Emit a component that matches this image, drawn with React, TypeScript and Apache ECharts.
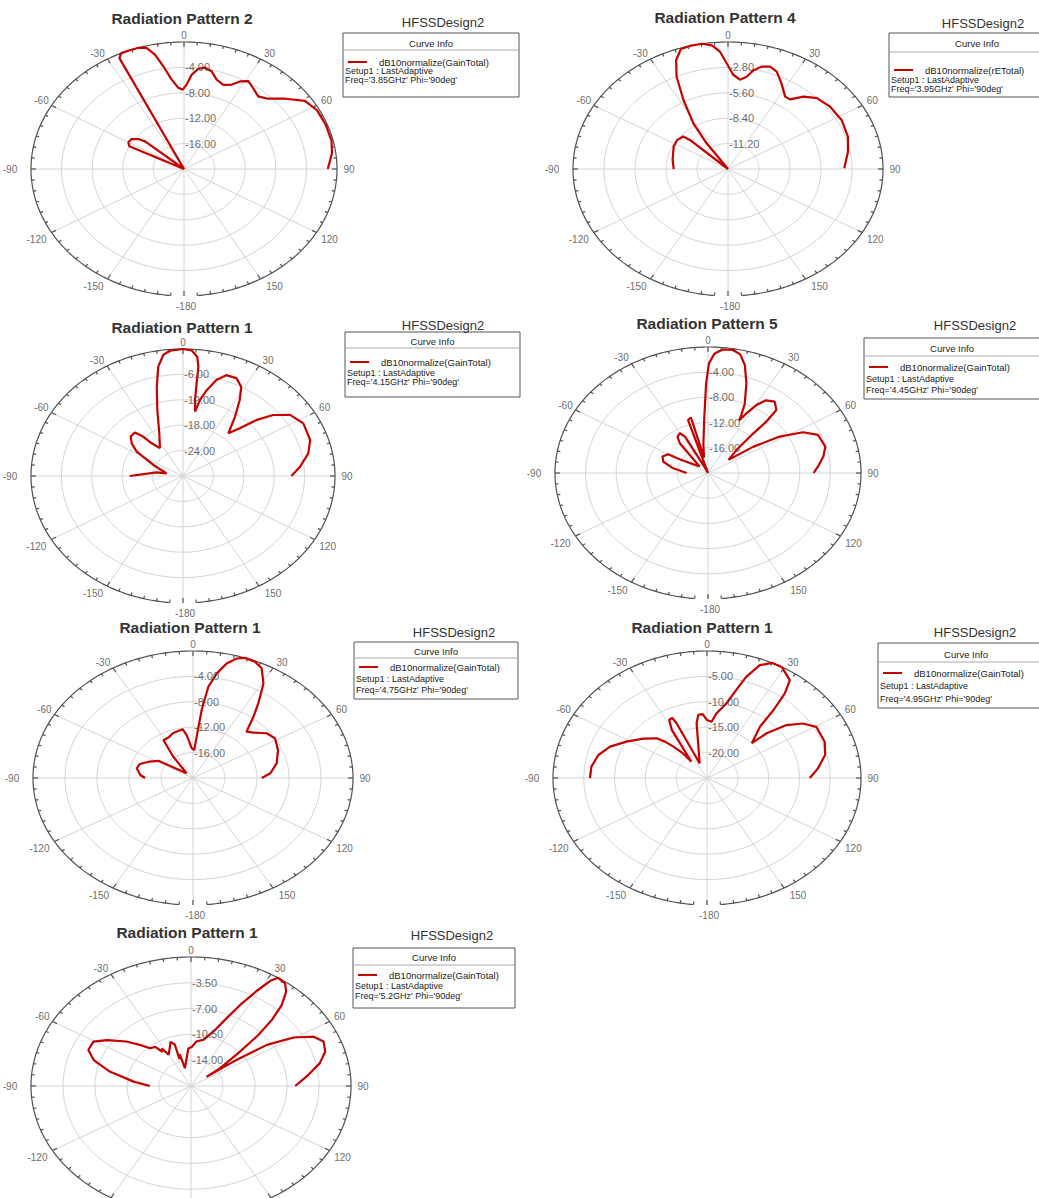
import React, { useEffect, useRef } from "react";
import * as echarts from "echarts";

// ---------- DATA ----------
const angleTickValues = [0, 30, 60, 90, 120, 150, 180, -150, -120, -90, -60, -30];
const angleTickLabels = ["0", "30", "60", "90", "120", "150", "-180", "-150", "-120", "-90", "-60", "-30"];

const plotTitles = [
  "Radiation Pattern 2",
  "Radiation Pattern 4",
  "Radiation Pattern 1",
  "Radiation Pattern 5",
  "Radiation Pattern 1",
  "Radiation Pattern 1",
  "Radiation Pattern 1",
];
const freqLabels = ["3.85GHz", "3.95GHz", "4.15GHz", "4.45GHz", "4.75GHz", "4.95GHz", "5.2GHz"];
const quantityLabels = [
  "dB10normalize(GainTotal)",
  "dB10normalize(rETotal)",
  "dB10normalize(GainTotal)",
  "dB10normalize(GainTotal)",
  "dB10normalize(GainTotal)",
  "dB10normalize(GainTotal)",
  "dB10normalize(GainTotal)",
];
const radialMins = [-20, -14, -30, -20, -20, -25, -17.5];
const radialSteps = [4, 2.8, 6, 4, 4, 5, 3.5];

// [theta (deg), gain (dB)]
const gain385GHz: [number, number][] = [
  [-90, -20], [-66, -20], [-63.5, -12.0], [-60, -11.6], [-55.4, -11.7], [-51.6, -12.4], [-49.5, -13.3],
  [-47, -20], [-30, -20], [-25.8, -0.6], [-24.2, 0], [-21.4, 0], [-17.6, 0], [-14.4, -0.3], [-11.9, -1.6],
  [-9.5, -3.6], [-6.6, -5.8], [-3.3, -7.2], [-0.8, -7.5], [1.5, -6.7], [3.9, -5.1], [6.8, -4.1], [9.7, -3.8],
  [13.2, -4.2], [16.9, -5.3], [21.2, -5.8], [25.2, -5.3], [27.9, -4.4], [31.3, -3.8], [35.4, -4.4],
  [40.3, -5.0], [44.3, -4.5], [49.5, -2.9], [55.8, -0.9], [61.9, -0.3], [69.4, -0.2], [76.9, -0.2],
  [82.7, -0.5], [90, -1.2],
];
const gain395GHz: [number, number][] = [
  [-90, -9.1], [-78.8, -8.9], [-63.2, -8.5], [-55.4, -8.4], [-48.5, -8.6], [-47.1, -9.3], [-46, -14],
  [-40, -14], [-34.3, -10.6], [-31.9, -8.1], [-27.9, -5.4], [-24.5, -2.8], [-21.3, -1.1], [-17.8, -0.1],
  [-13.8, 0], [-9.6, 0], [-6.1, -0.3], [-3.2, -1.05], [-0.6, -2.35], [2.6, -3.6], [6.3, -4.1], [9.4, -3.7],
  [11.9, -2.9], [15.1, -2.3], [18.6, -2.1], [22.3, -2.4], [27.1, -3.4], [32.9, -4.5], [36.1, -4.5],
  [40.5, -3.5], [45.8, -2.8], [53.3, -2.5], [62.2, -2.4], [71.8, -2.6], [80.1, -3.0], [89.6, -3.5],
];
const gain415GHz: [number, number][] = [
  [-90, -19.5], [-80.5, -24.7], [-79, -26.7], [-66, -23.6], [-57.8, -19.2], [-52.8, -17.3], [-48, -16.1],
  [-42.8, -16.0], [-40.1, -17.9], [-38.7, -20.1], [-34.7, -22.0], [-24.9, -18.9], [-18, -13.6],
  [-13.8, -8.3], [-10.7, -3.7], [-7.7, -1.1], [-5, -0.3], [0, 0], [3.3, -0.3], [5.7, -1.7], [6.7, -4.0],
  [7, -7.9], [7.5, -11.9], [8.9, -14.6], [10.6, -11.7], [13, -9.2], [16.2, -6.4], [19.7, -4.7],
  [24.5, -4.6], [28.6, -6.0], [32, -8.9], [36.2, -12.6], [41.6, -16.5], [44.8, -14.1], [47.7, -10.3],
  [51, -7.1], [55.7, -4.4], [62.4, -3.2], [71.3, -3.5], [77.8, -4.7], [84.6, -6.8], [90, -8.6],
];
const gain445GHz: [number, number][] = [
  [-90, -17.2], [-80.7, -15.4], [-73, -13.9], [-66.3, -13.5], [-60.3, -14.0], [-59.7, -15.7],
  [-47, -18.5], [-37.9, -14.0], [-34.8, -13.0], [-30.2, -12.7], [-27.5, -13.5], [-26, -18.5], [-21, -20],
  [-17.2, -11.2], [-14.3, -10.9], [-14, -13.0], [-12, -17.5], [-7.4, -15.3], [-3.1, -11.1], [-1, -5.8],
  [0.4, -2.6], [2.6, -1.0], [5.7, -0.3], [9.5, -0.2], [12.6, -0.7], [15.7, -2.2], [19.4, -4.9],
  [23.6, -8.0], [25.3, -9.8], [26, -10.7], [27.9, -9.3], [30.4, -7.5], [33.3, -6.2], [37.6, -5.7],
  [41.8, -6.6], [43.1, -8.9], [43.3, -11.4], [45.6, -14.8], [52.2, -16.6], [54.8, -12.8], [58.3, -9.0],
  [62.5, -6.0], [67.2, -4.4], [74.8, -4.1], [80.2, -4.7], [86, -5.6], [90, -6.2],
];
const gain475GHz: [number, number][] = [
  [-90, -14.0], [-85.9, -13.4], [-77.8, -12.8], [-71.6, -13.0], [-64.4, -14.0], [-57.9, -14.9],
  [-47, -18.9], [-36.2, -15.8], [-31.8, -13.0], [-25, -12.9], [-19.3, -12.5], [-9.6, -12.2],
  [-6.7, -13.2], [-2, -15.3], [2, -15.6], [4, -13.5], [5.8, -9.2], [7.6, -5.5], [10.2, -3.3],
  [13.1, -1.5], [16.2, -0.4], [18.9, 0], [22.9, -0.1], [26.4, -0.7], [30.6, -2.7], [34.8, -5.7],
  [38, -7.7], [42.5, -10.1], [46.6, -9.6], [52.6, -8.4], [58.7, -8.0], [67.6, -8.5], [77.6, -9.3],
  [85.6, -10.3], [90, -11.4],
];
const gain495GHz: [number, number][] = [
  [-90, -6.0], [-83.2, -6.1], [-75.6, -6.8], [-68.6, -8.1], [-61.3, -10.1], [-53, -12.1], [-46.3, -13.7],
  [-43.7, -15.1], [-41.5, -16.7], [-38.8, -18.8], [-38.3, -20.9], [-31.2, -14.0], [-28.2, -12.0],
  [-25.5, -11.9], [-24.6, -13.2], [-22.5, -21.9], [-8.9, -14.1], [-6.5, -12.5], [-3.2, -12.4],
  [0, -13.6], [3.9, -13.9], [6.8, -12.2], [12.1, -10.0], [15.3, -7.0], [17.7, -4.1], [21.1, -1.2],
  [24.9, 0], [29, 0], [34.9, -1.5], [37.2, -4.1], [38.9, -7.8], [40.4, -11.7], [46.7, -15.0],
  [47.7, -11.9], [51.1, -8.4], [55.4, -6.1], [60.4, -4.6], [69.5, -4.6], [76.7, -5.3], [84, -6.9],
  [90, -8.3],
];
const gain52GHz: [number, number][] = [
  [-90, -13.0], [-84.6, -11.2], [-77.6, -8.4], [-71.7, -6.3], [-66.5, -5.25], [-60.6, -5.25],
  [-55.9, -6.4], [-49.5, -8.2], [-45.1, -9.6], [-41.2, -10.7], [-36.4, -10.9], [-34, -11.9],
  [-32.1, -11.5], [-30, -12.6], [-24, -11.8], [-20.5, -11.1], [-17.5, -11.6], [-19, -13.6], [-16, -13.0],
  [-15.5, -15.0], [-3.3, -12.4], [0.8, -12.2], [5.9, -11.4], [12.2, -11.1], [18.4, -9.7], [23, -7.5],
  [26, -5.3], [29.1, -2.75], [31.3, -0.8], [33, 0], [36.5, -0.2], [39.1, -1.0], [42.1, -2.7],
  [44.6, -4.9], [46.8, -7.4], [49, -10.4], [52.9, -13.5], [53.7, -15.4], [54.5, -11.8], [56.1, -7.5],
  [59.6, -4.5], [63.5, -2.5], [67.4, -1.8], [72.4, -2.1], [77.7, -3.1], [83.4, -4.6], [90, -6.1],
];

const curves = [gain385GHz, gain395GHz, gain415GHz, gain445GHz, gain475GHz, gain495GHz, gain52GHz];

// ---------- LAYOUT (pixels) ----------
const PAGE_H = 1198;
const CHART_H = 1260; // taller than the page so the last plot is not squeezed; the page crops it
const LAYOUT = [
  { cx: 184, cy: 169, rx: 153, ry: 127, tx: 182, ty: 18, dx: 443, dy: 22, box: [343, 33, 176, 64], rows: [43, 50, 62, 71, 80] },
  { cx: 728, cy: 169, rx: 155, ry: 127, tx: 725, ty: 17, dx: 983, dy: 23, box: [889, 33, 176, 64], rows: [43, 52, 70, 80, 89] },
  { cx: 183, cy: 476, rx: 152, ry: 127, tx: 182, ty: 327, dx: 443, dy: 325, box: [345, 332, 175, 65], rows: [341, 348, 362, 373, 382] },
  { cx: 708, cy: 473, rx: 153, ry: 126, tx: 707, ty: 323, dx: 975, dy: 325, box: [864, 338, 176, 61], rows: [348, 356, 367, 379, 390] },
  { cx: 193, cy: 778, rx: 160, ry: 127, tx: 190, ty: 627, dx: 454, dy: 632, box: [354, 642, 164, 57], rows: [651, 658, 667, 679, 690] },
  { cx: 707, cy: 778, rx: 154, ry: 127, tx: 702, ty: 627, dx: 975, dy: 632, box: [878, 643, 176, 65], rows: [654, 662, 673, 686, 699] },
  { cx: 191, cy: 1086, rx: 160, ry: 129, tx: 187, ty: 932, dx: 452, dy: 935, box: [353, 948, 162, 60], rows: [957, 965, 975, 986, 996] },
];
const ANGLE_LABEL_OFFSETS = [
  [0, -7], [9, -6], [10, -5], [12, 0], [13, 7], [14, 8], [2, 10], [-14, 8], [-15, 7], [-21, 0], [-10, -5], [-10, -6],
];
const FONT = "'Liberation Sans', Arial, sans-serif";
const CURVE_COLOR = "#c40000";
const LABEL_COLOR = "#444444";

const rad = (d: number) => (d * Math.PI) / 180;
const toXY = (theta: number, db: number, min: number) => {
  const r = Math.max(0, Math.min(1, (db - min) / -min));
  return [r * Math.sin(rad(theta)), r * Math.cos(rad(theta))];
};
const arc = (r: number, from: number, to: number, step: number) => {
  const pts: number[][] = [];
  for (let a = from; a <= to + 1e-9; a += step) pts.push([r * Math.sin(rad(a)), r * Math.cos(rad(a))]);
  return pts;
};

function buildOption() {
  const grid: any[] = [];
  const xAxis: any[] = [];
  const yAxis: any[] = [];
  const series: any[] = [];
  const graphic: any[] = [];

  LAYOUT.forEach((L, i) => {
    const min = radialMins[i];
    const step = radialSteps[i];
    grid.push({ left: L.cx - L.rx, top: L.cy - L.ry, width: 2 * L.rx, height: 2 * L.ry });
    xAxis.push({ gridIndex: i, type: "value", min: -1, max: 1, show: false });
    yAxis.push({ gridIndex: i, type: "value", min: -1, max: 1, show: false });

    const ringValues: number[] = [];
    for (let j = 1; j * step < -min - 1e-6; j++) ringValues.push(-j * step);

    const innerLines: any[] = ringValues.map((v) => ({ coords: arc((v - min) / -min, -180, 180, 2) }));
    for (let a = 0; a < 360; a += 30) innerLines.push({ coords: [[0, 0], [Math.sin(rad(a)), Math.cos(rad(a))]] });
    series.push({
      type: "lines", coordinateSystem: "cartesian2d", xAxisIndex: i, yAxisIndex: i, polyline: true,
      silent: true, clip: false, z: 1,
      lineStyle: { color: "#d4d4d4", width: 1, opacity: 1 },
      data: innerLines,
    });

    const outer: any[] = [{ coords: arc(1, -175, 175, 1) }];
    for (let a = -175; a <= 180; a += 5) {
      const s = Math.sin(rad(a)), c = Math.cos(rad(a));
      const pr = Math.sqrt((L.rx * s) ** 2 + (L.ry * c) ** 2);
      const len = a % 30 === 0 ? 5 : 3;
      const d = len / pr;
      outer.push({ coords: [[s, c], [(1 - d) * s, (1 - d) * c]] });
    }
    series.push({
      type: "lines", coordinateSystem: "cartesian2d", xAxisIndex: i, yAxisIndex: i, polyline: true,
      silent: true, clip: false, z: 2,
      lineStyle: { color: "#505050", width: 1.2, opacity: 1 },
      data: outer,
    });

    series.push({
      type: "line", xAxisIndex: i, yAxisIndex: i, silent: true, clip: false, z: 5,
      symbol: "none", showSymbol: false,
      lineStyle: { color: CURVE_COLOR, width: 2.2 },
      data: curves[i].map(([t, v]) => toXY(t, v, min)),
    });

    // angle labels that fall inside the page
    const angleData: any[] = [];
    angleTickValues.forEach((a, k) => {
      const py = L.cy - L.ry * Math.cos(rad(a)) + ANGLE_LABEL_OFFSETS[k][1];
      if (py + 6 > PAGE_H) return;
      angleData.push({
        value: [Math.sin(rad(a)), Math.cos(rad(a))],
        label: { formatter: angleTickLabels[k], offset: ANGLE_LABEL_OFFSETS[k], color: LABEL_COLOR },
      });
    });
    series.push({
      type: "scatter", xAxisIndex: i, yAxisIndex: i, silent: true, clip: false, z: 6,
      symbolSize: 0.1, itemStyle: { color: "rgba(0,0,0,0)" },
      label: { show: true, position: "inside", color: LABEL_COLOR, fontSize: 10, fontFamily: FONT },
      data: angleData,
    });

    series.push({
      type: "scatter", xAxisIndex: i, yAxisIndex: i, silent: true, clip: false, z: 6,
      symbolSize: 0.1, itemStyle: { color: "rgba(0,0,0,0)" },
      label: {
        show: true, position: "inside", align: "left", offset: [1, 0], color: LABEL_COLOR, fontSize: 11,
        fontFamily: FONT, verticalAlign: "middle",
      },
      data: ringValues.map((v) => ({
        value: [0, (v - min) / -min],
        label: { formatter: v.toFixed(2), color: LABEL_COLOR },
      })),
    });

    // titles & legend decorations
    graphic.push({
      type: "text", x: L.tx, y: L.ty, z: 10,
      style: { text: plotTitles[i], fontSize: 15.5, fontWeight: "bold", fill: "#333", align: "center", verticalAlign: "middle", fontFamily: FONT },
    });
    graphic.push({
      type: "text", x: L.dx, y: L.dy, z: 10,
      style: { text: "HFSSDesign2", fontSize: 13, fill: "#333", align: "center", verticalAlign: "middle", fontFamily: FONT },
    });
    const [bx, by, bw, bh] = L.box;
    graphic.push({ type: "rect", z: 9, shape: { x: bx, y: by, width: bw, height: bh }, style: { fill: "#fff", stroke: "#555", lineWidth: 1 } });
    graphic.push({ type: "line", z: 10, shape: { x1: bx, y1: L.rows[1], x2: bx + bw, y2: L.rows[1] }, style: { stroke: "#aaa", lineWidth: 1 } });
    graphic.push({
      type: "text", x: bx + bw / 2, y: L.rows[0], z: 10,
      style: { text: "Curve Info", fontSize: 9.5, fill: "#222", align: "center", verticalAlign: "middle", fontFamily: FONT },
    });
    graphic.push({ type: "line", z: 10, shape: { x1: bx + 5, y1: L.rows[2], x2: bx + 24, y2: L.rows[2] }, style: { stroke: CURVE_COLOR, lineWidth: 2 } });
    graphic.push({
      type: "text", x: bx + 36, y: L.rows[2], z: 10,
      style: { text: quantityLabels[i], fontSize: 9.5, fill: "#222", align: "left", verticalAlign: "middle", fontFamily: FONT },
    });
    graphic.push({
      type: "text", x: bx + 2, y: L.rows[3], z: 10,
      style: { text: "Setup1 : LastAdaptive", fontSize: 9, fill: "#222", align: "left", verticalAlign: "middle", fontFamily: FONT },
    });
    graphic.push({
      type: "text", x: bx + 2, y: L.rows[4], z: 10,
      style: { text: `Freq='${freqLabels[i]}' Phi='90deg'`, fontSize: 9, fill: "#222", align: "left", verticalAlign: "middle", fontFamily: FONT },
    });
  });

  return { animation: false, backgroundColor: "#ffffff", grid, xAxis, yAxis, series, graphic };
}

export default function App() {
  const ref = useRef<HTMLDivElement>(null);
  useEffect(() => {
    document.body.style.margin = "0";
    const chart = echarts.init(ref.current as HTMLDivElement, undefined, { renderer: "svg" });
    chart.setOption(buildOption() as any);
    return () => chart.dispose();
  }, []);
  return (
    <div style={{ position: "absolute", left: 0, top: 0, width: 1039, height: PAGE_H, overflow: "hidden", background: "#fff" }}>
      <div ref={ref} style={{ width: 1039, height: CHART_H }} />
    </div>
  );
}
